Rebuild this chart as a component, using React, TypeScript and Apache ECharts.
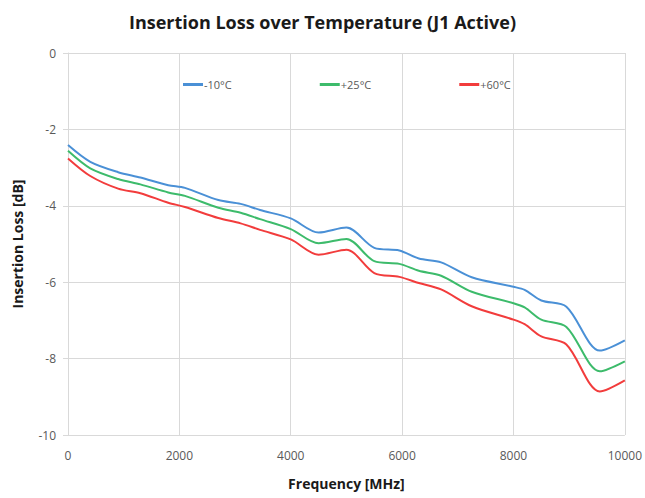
import React, { useEffect, useRef } from "react";
import * as echarts from "echarts";

const freqs = [0, 400, 900, 1300, 1800, 2100, 2700, 3100, 3450, 4000, 4500, 5000, 5500, 5950, 6300, 6700, 7250, 8000, 8200, 8500, 8950, 9550, 10000];
const minus10 = [-2.41, -2.85, -3.12, -3.26, -3.46, -3.53, -3.85, -3.95, -4.11, -4.33, -4.70, -4.57, -5.10, -5.17, -5.38, -5.48, -5.87, -6.12, -6.20, -6.48, -6.64, -7.79, -7.52];
const plus25 = [-2.56, -3.02, -3.30, -3.44, -3.65, -3.74, -4.05, -4.18, -4.35, -4.61, -4.98, -4.87, -5.45, -5.52, -5.70, -5.83, -6.25, -6.55, -6.66, -6.98, -7.17, -8.33, -8.07];
const plus60 = [-2.76, -3.22, -3.55, -3.67, -3.92, -4.03, -4.32, -4.46, -4.63, -4.88, -5.28, -5.15, -5.76, -5.86, -6.02, -6.19, -6.63, -6.98, -7.10, -7.42, -7.63, -8.86, -8.57];
const seriesNames = ["-10°C", "+25°C", "+60°C"];
const colors = ["#4a90d6", "#3dbb6b", "#f23c3c"];

const FONT = "'Open Sans', 'Noto Sans', sans-serif";

export default function App() {
  const ref = useRef<HTMLDivElement>(null);
  useEffect(() => {
    if (!ref.current) return;
    const chart = echarts.init(ref.current, null, { renderer: "svg" });
    const all = [minus10, plus25, plus60];
    chart.setOption({
      animation: false,
      backgroundColor: "#ffffff",
      textStyle: { fontFamily: FONT },
      title: {
        text: "Insertion Loss over Temperature (J1 Active)",
        left: "center",
        top: 8,
        textStyle: { fontFamily: FONT, fontSize: 18, fontWeight: "bold", color: "#1a1a1a" },
      },
      legend: {
        top: 74,
        left: 178,
        itemGap: 88,
        itemWidth: 20,
        itemHeight: 3,
        icon: "rect",
        data: seriesNames,
        textStyle: { fontFamily: FONT, fontSize: 11, color: "#595959", padding: [0, 0, 0, -4] },
      },
      grid: { left: 68, right: 19, top: 53, bottom: 63 },
      xAxis: {
        type: "value",
        min: 0,
        max: 10000,
        interval: 2000,
        name: "Frequency [MHz]",
        nameLocation: "middle",
        nameGap: 41,
        nameTextStyle: { fontFamily: FONT, fontSize: 14, fontWeight: "bold", color: "#1a1a1a" },
        axisLine: { show: true, lineStyle: { color: "#d9d9d9", width: 1 } },
        axisTick: { show: true, length: 5, lineStyle: { color: "#d9d9d9" } },
        axisLabel: { fontFamily: FONT, fontSize: 12, color: "#595959", margin: 14, formatter: (v: number) => String(v) },
        splitLine: { show: true, lineStyle: { color: "#d9d9d9", width: 1 } },
      },
      yAxis: {
        type: "value",
        min: -10,
        max: 0,
        interval: 2,
        name: "Insertion Loss [dB]",
        nameLocation: "middle",
        nameGap: 44,
        nameTextStyle: { fontFamily: FONT, fontSize: 14, fontWeight: "bold", color: "#1a1a1a" },
        axisLine: { show: true, lineStyle: { color: "#d9d9d9", width: 1 } },
        axisTick: { show: true, length: 5, lineStyle: { color: "#d9d9d9" } },
        axisLabel: { fontFamily: FONT, fontSize: 12, color: "#595959", margin: 12 },
        splitLine: { show: true, lineStyle: { color: "#d9d9d9", width: 1 } },
      },
      series: all.map((vals, i) => ({
        name: seriesNames[i],
        type: "line",
        smooth: 0.3,
        showSymbol: false,
        symbol: "none",
        color: colors[i],
        lineStyle: { width: 2, color: colors[i] },
        data: freqs.map((f, j) => [f, vals[j]]),
      })),
    });
    return () => chart.dispose();
  }, []);
  return <div ref={ref} style={{ position: "absolute", left: 0, top: 0, width: 645, height: 498 }} />;
}
